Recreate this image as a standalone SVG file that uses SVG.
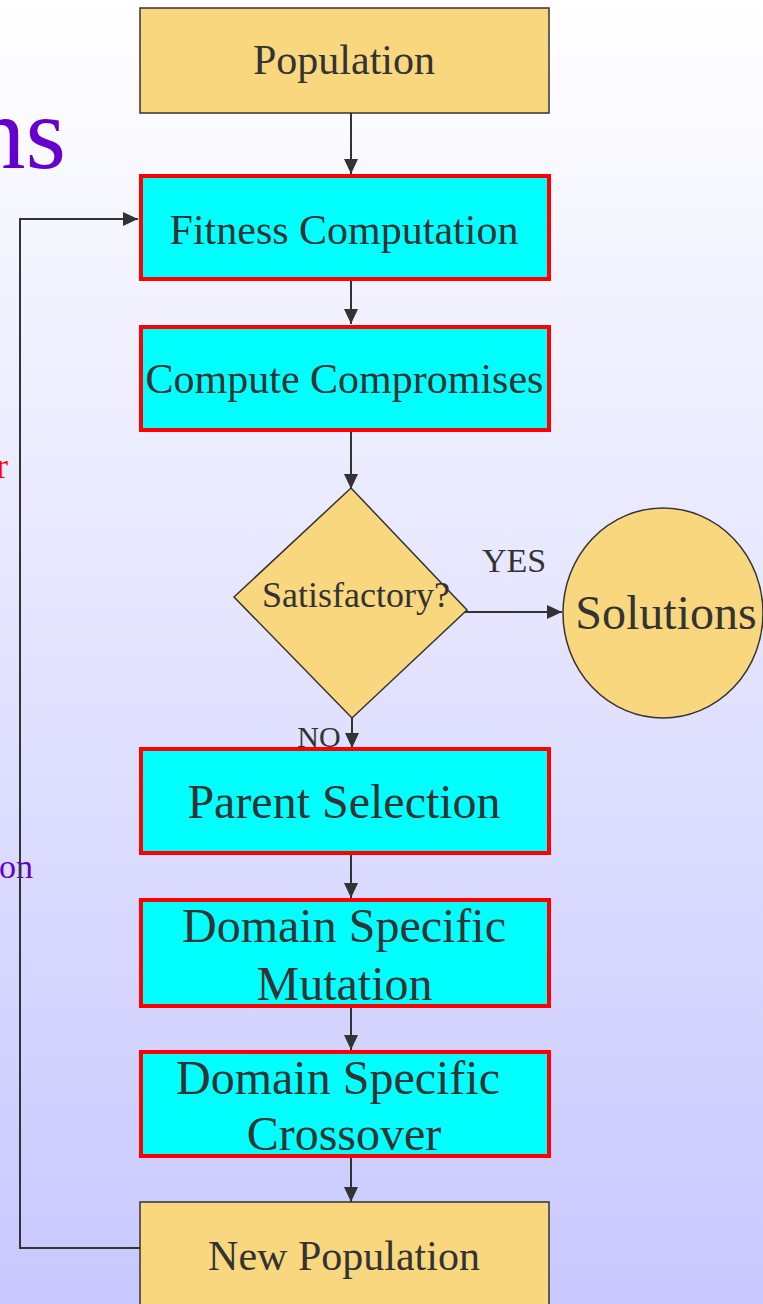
<svg xmlns="http://www.w3.org/2000/svg" width="763" height="1304" viewBox="0 0 763 1304">
<style>
.t{font-family:"Liberation Serif","Times New Roman",serif;fill:#333333;text-anchor:middle}
.gold{fill:#f9d77e;stroke:#333333;stroke-width:1.5}
.cyan{fill:#00ffff;stroke:#ff0000;stroke-width:4}
.conn{fill:none;stroke:#333333;stroke-width:2}
</style>
<defs>
<linearGradient id="bg" x1="0" y1="0" x2="0" y2="1">
<stop offset="0" stop-color="#ffffff"/>
<stop offset="1" stop-color="#c8c8ff"/>
</linearGradient>
<marker id="ah" markerUnits="userSpaceOnUse" markerWidth="16" markerHeight="14" refX="15" refY="7" orient="auto">
<path d="M0,0 L15,7 L0,14 Z" fill="#333333"/>
</marker>
</defs>
<rect x="0" y="0" width="763" height="1304" fill="url(#bg)"/>
<g id="background-text">
<text x="66" y="168" font-family="Liberation Serif,serif" font-size="104" fill="#6600cc" text-anchor="end">ns</text>
<text x="8" y="478" font-family="Liberation Serif,serif" font-size="36" fill="#ff0000" text-anchor="end">r</text>
<text x="33" y="878" font-family="Liberation Serif,serif" font-size="34" fill="#6600cc" text-anchor="end">on</text>
</g>
<g id="connectors">
<line class="conn" x1="351" y1="113" x2="351" y2="174" marker-end="url(#ah)"/>
<line class="conn" x1="351" y1="281" x2="351" y2="324" marker-end="url(#ah)"/>
<line class="conn" x1="351" y1="432" x2="351" y2="489" marker-end="url(#ah)"/>
<line class="conn" x1="458" y1="612" x2="562" y2="612" marker-end="url(#ah)"/>
<line class="conn" x1="352" y1="718" x2="352" y2="748" marker-end="url(#ah)"/>
<line class="conn" x1="351" y1="855" x2="351" y2="898" marker-end="url(#ah)"/>
<line class="conn" x1="351" y1="1008" x2="351" y2="1050" marker-end="url(#ah)"/>
<line class="conn" x1="351" y1="1158" x2="351" y2="1202" marker-end="url(#ah)"/>
<polyline class="conn" points="140,1248 20,1248 20,219 138,219" marker-end="url(#ah)"/>
</g>
<g id="population">
<rect class="gold" x="140" y="8" width="409" height="105"/>
<text class="t" x="344" y="74" font-size="42">Population</text>
</g>
<g id="fitness">
<rect class="cyan" x="141" y="176" width="408" height="103"/>
<text class="t" x="344" y="244" font-size="42">Fitness Computation</text>
</g>
<g id="compromises">
<rect class="cyan" x="141" y="327" width="408" height="103"/>
<text class="t" x="344.5" y="393" font-size="42">Compute Compromises</text>
</g>
<g id="satisfactory">
<polygon class="gold" points="351,488 467,610 352,718 234,597"/>
<text class="t" x="356" y="607" font-size="36">Satisfactory?</text>
</g>
<g id="solutions">
<ellipse class="gold" cx="663" cy="613" rx="100" ry="105"/>
<text class="t" x="666" y="629" font-size="48">Solutions</text>
</g>
<g id="labels">
<text class="t" x="514" y="572" font-size="34">YES</text>
<text class="t" x="319" y="747" font-size="30">NO</text>
</g>
<g id="parent">
<rect class="cyan" x="141" y="749" width="408" height="104"/>
<text class="t" x="344" y="818" font-size="48">Parent Selection</text>
</g>
<g id="mutation">
<rect class="cyan" x="141" y="900" width="408" height="106"/>
<text class="t" x="344" y="942" font-size="48">Domain Specific</text>
<text class="t" x="344.5" y="1000" font-size="48">Mutation</text>
</g>
<g id="crossover">
<rect class="cyan" x="141" y="1052" width="408" height="104"/>
<text class="t" x="338" y="1094" font-size="48">Domain Specific</text>
<text class="t" x="344" y="1150" font-size="48">Crossover</text>
</g>
<g id="newpop">
<rect class="gold" x="140" y="1202" width="409" height="110"/>
<text class="t" x="344" y="1270" font-size="42">New Population</text>
</g>
</svg>
